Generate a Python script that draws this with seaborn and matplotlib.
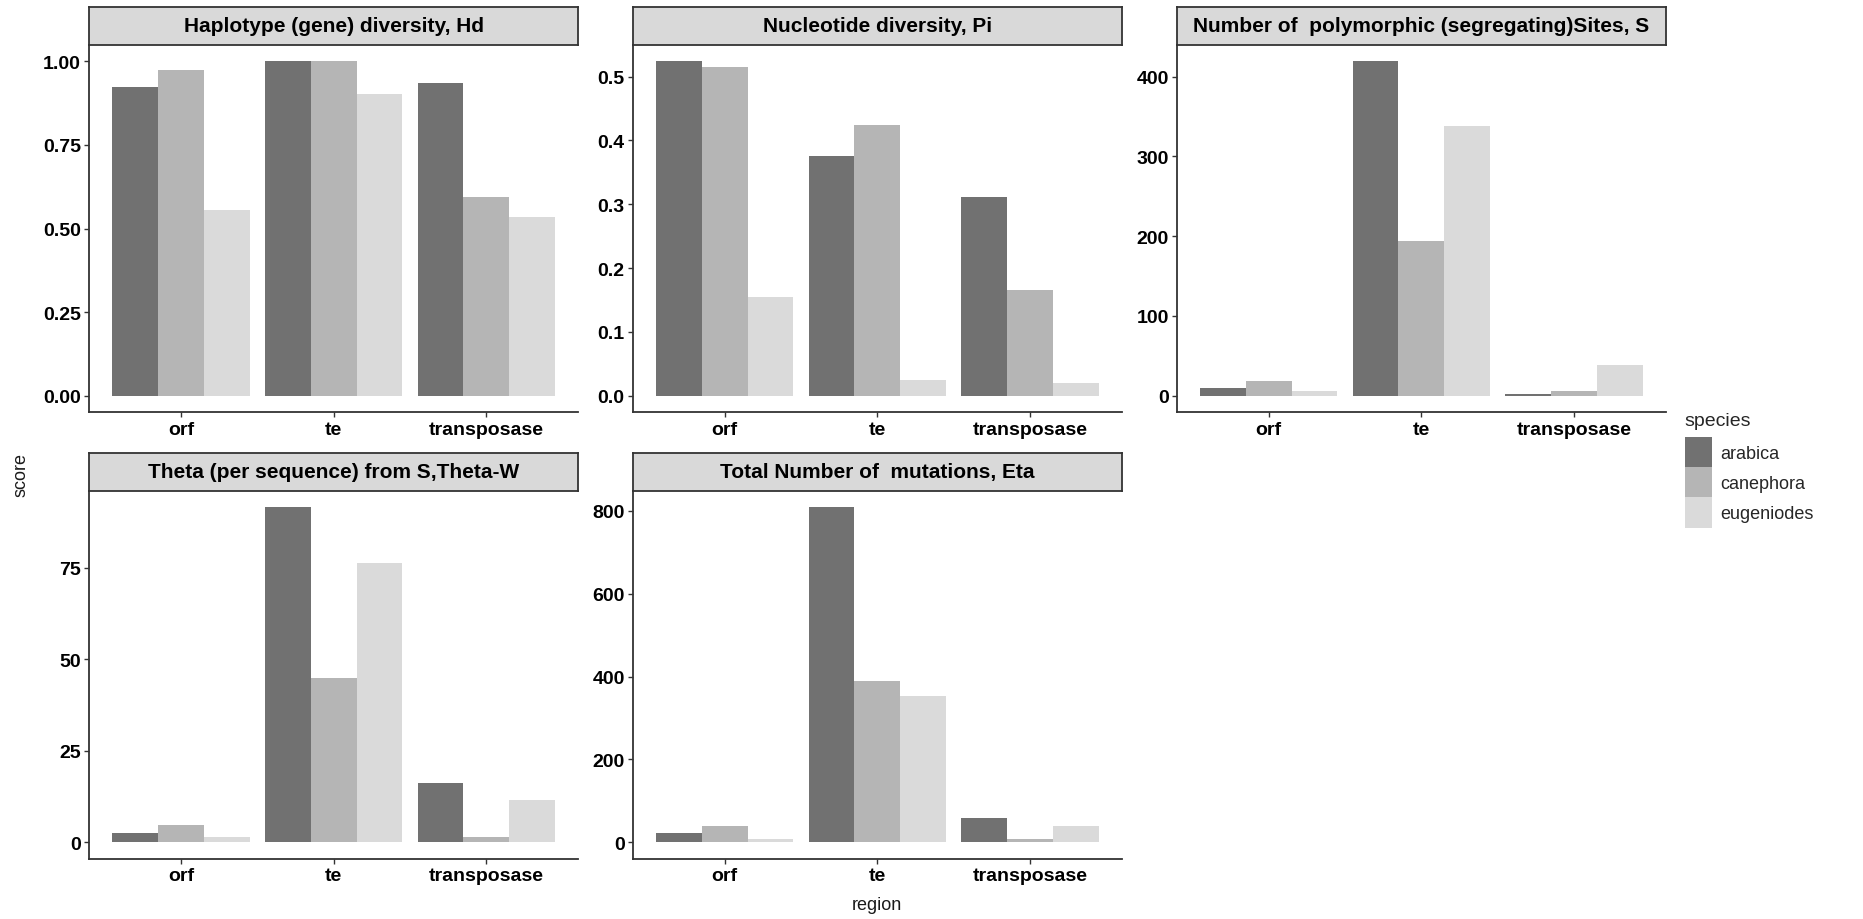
import numpy as np
import pandas as pd
import matplotlib
matplotlib.use("Agg")
import matplotlib.pyplot as plt
from matplotlib.patches import Patch
from matplotlib.ticker import FixedLocator, FormatStrFormatter
import seaborn as sns

# ---------------- data ----------------
regions = ["orf", "te", "transposase"]
species = ["arabica", "canephora", "eugeniodes"]

metrics = [
    "Haplotype (gene) diversity, Hd",
    "Nucleotide diversity, Pi",
    "Number of  polymorphic (segregating)Sites, S",
    "Theta (per sequence) from S,Theta-W",
    "Total Number of  mutations, Eta",
]

# values per metric: rows = region (orf, te, transposase), columns = species
hd_values = [[0.923, 0.973, 0.554],
             [1.000, 1.000, 0.903],
             [0.935, 0.595, 0.533]]
pi_values = [[0.524, 0.515, 0.155],
             [0.376, 0.425, 0.025],
             [0.311, 0.166, 0.020]]
s_values = [[9, 18, 6],
            [419, 194, 338],
            [2, 6, 38]]
theta_values = [[2.6, 4.8, 1.5],
                [91.5, 44.9, 76.2],
                [16.1, 1.5, 11.6]]
eta_values = [[23, 40, 7],
              [808, 389, 353],
              [59, 7, 40]]

all_values = [hd_values, pi_values, s_values, theta_values, eta_values]
y_ticks = [[0, 0.25, 0.5, 0.75, 1.0],
           [0, 0.1, 0.2, 0.3, 0.4, 0.5],
           [0, 100, 200, 300, 400],
           [0, 25, 50, 75],
           [0, 200, 400, 600, 800]]
y_formats = ["%.2f", "%.1f", "%d", "%d", "%d"]

colors = ["#717171", "#B5B5B5", "#DADADA"]

rows = []
for m, vals in zip(metrics, all_values):
    for ri, r in enumerate(regions):
        for si, s in enumerate(species):
            rows.append({"metric": m, "region": r, "species": s, "score": vals[ri][si]})
df = pd.DataFrame(rows)

# ---------------- figure ----------------
sns.set_theme(style="white")
plt.rcParams["font.family"] = ["Liberation Sans", "DejaVu Sans"]

W, H = 1863, 920
fig = plt.figure(figsize=(W / 100, H / 100), dpi=100)

col_x = [(89.3, 578.0), (633.0, 1121.6), (1177.0, 1665.6)]
row_y = [(8.0, 45.7, 413.3), (454.0, 491.7, 860.0)]

axis_col = "#333333"

for i, m in enumerate(metrics):
    r, c = divmod(i, 3)
    x0, x1 = col_x[c]
    st, sb, pb = row_y[r]
    ax = fig.add_axes([x0 / W, 1 - pb / H, (x1 - x0) / W, (pb - sb) / H])
    sub = df[df["metric"] == m]
    sns.barplot(data=sub, x="region", y="score", hue="species",
                order=regions, hue_order=species, palette=colors,
                width=0.9, saturation=1, linewidth=0, ax=ax, legend=False,
                errorbar=None)
    vmax = sub["score"].max()
    ax.set_ylim(-0.05 * vmax, 1.05 * vmax)
    ax.set_xlim(-0.6, 2.6)
    ax.yaxis.set_major_locator(FixedLocator(y_ticks[i]))
    ax.yaxis.set_major_formatter(FormatStrFormatter(y_formats[i]))
    ax.set_xlabel("")
    ax.set_ylabel("")
    for side in ["top", "right"]:
        ax.spines[side].set_visible(False)
    for side in ["left", "bottom"]:
        ax.spines[side].set_visible(True)
        ax.spines[side].set_color(axis_col)
        ax.spines[side].set_linewidth(1.3)
    ax.tick_params(axis="both", which="major", length=3.5, width=1.0,
                   color=axis_col, labelsize=14, labelcolor="black",
                   left=True, bottom=True, pad=2.5)
    for lab in ax.get_xticklabels() + ax.get_yticklabels():
        lab.set_fontweight("bold")
    ax.set_facecolor("white")
    ax.grid(False)

    # strip
    sax = fig.add_axes([x0 / W, 1 - sb / H, (x1 - x0) / W, (sb - st) / H])
    sax.set_facecolor("#D9D9D9")
    sax.set_xticks([])
    sax.set_yticks([])
    for sp in sax.spines.values():
        sp.set_visible(True)
        sp.set_color(axis_col)
        sp.set_linewidth(1.3)
    sax.text(0.5, 0.5, m, ha="center", va="center", fontsize=15,
             fontweight="bold", color="black", transform=sax.transAxes)

fig.text(21 / W, 1 - 475 / H, "score", rotation=90, ha="center", va="center",
         fontsize=13, color="#1a1a1a")
fig.text(876.7 / W, 1 - 906 / H, "region", ha="center", va="center",
         fontsize=13, color="#1a1a1a")

handles = [Patch(facecolor=c, edgecolor="none", label=s) for c, s in zip(colors, species)]
leg = fig.legend(handles=handles, title="species", loc="upper left",
                 bbox_to_anchor=(1672 / W, 1 - 400 / H), frameon=False,
                 fontsize=13, title_fontsize=14, handlelength=1.5,
                 handleheight=2.2, labelspacing=0.0, handletextpad=0.45,
                 alignment="left", borderpad=0.2)
leg._legend_box.sep = 6

fig.savefig("out.png", dpi=100, facecolor="white")
